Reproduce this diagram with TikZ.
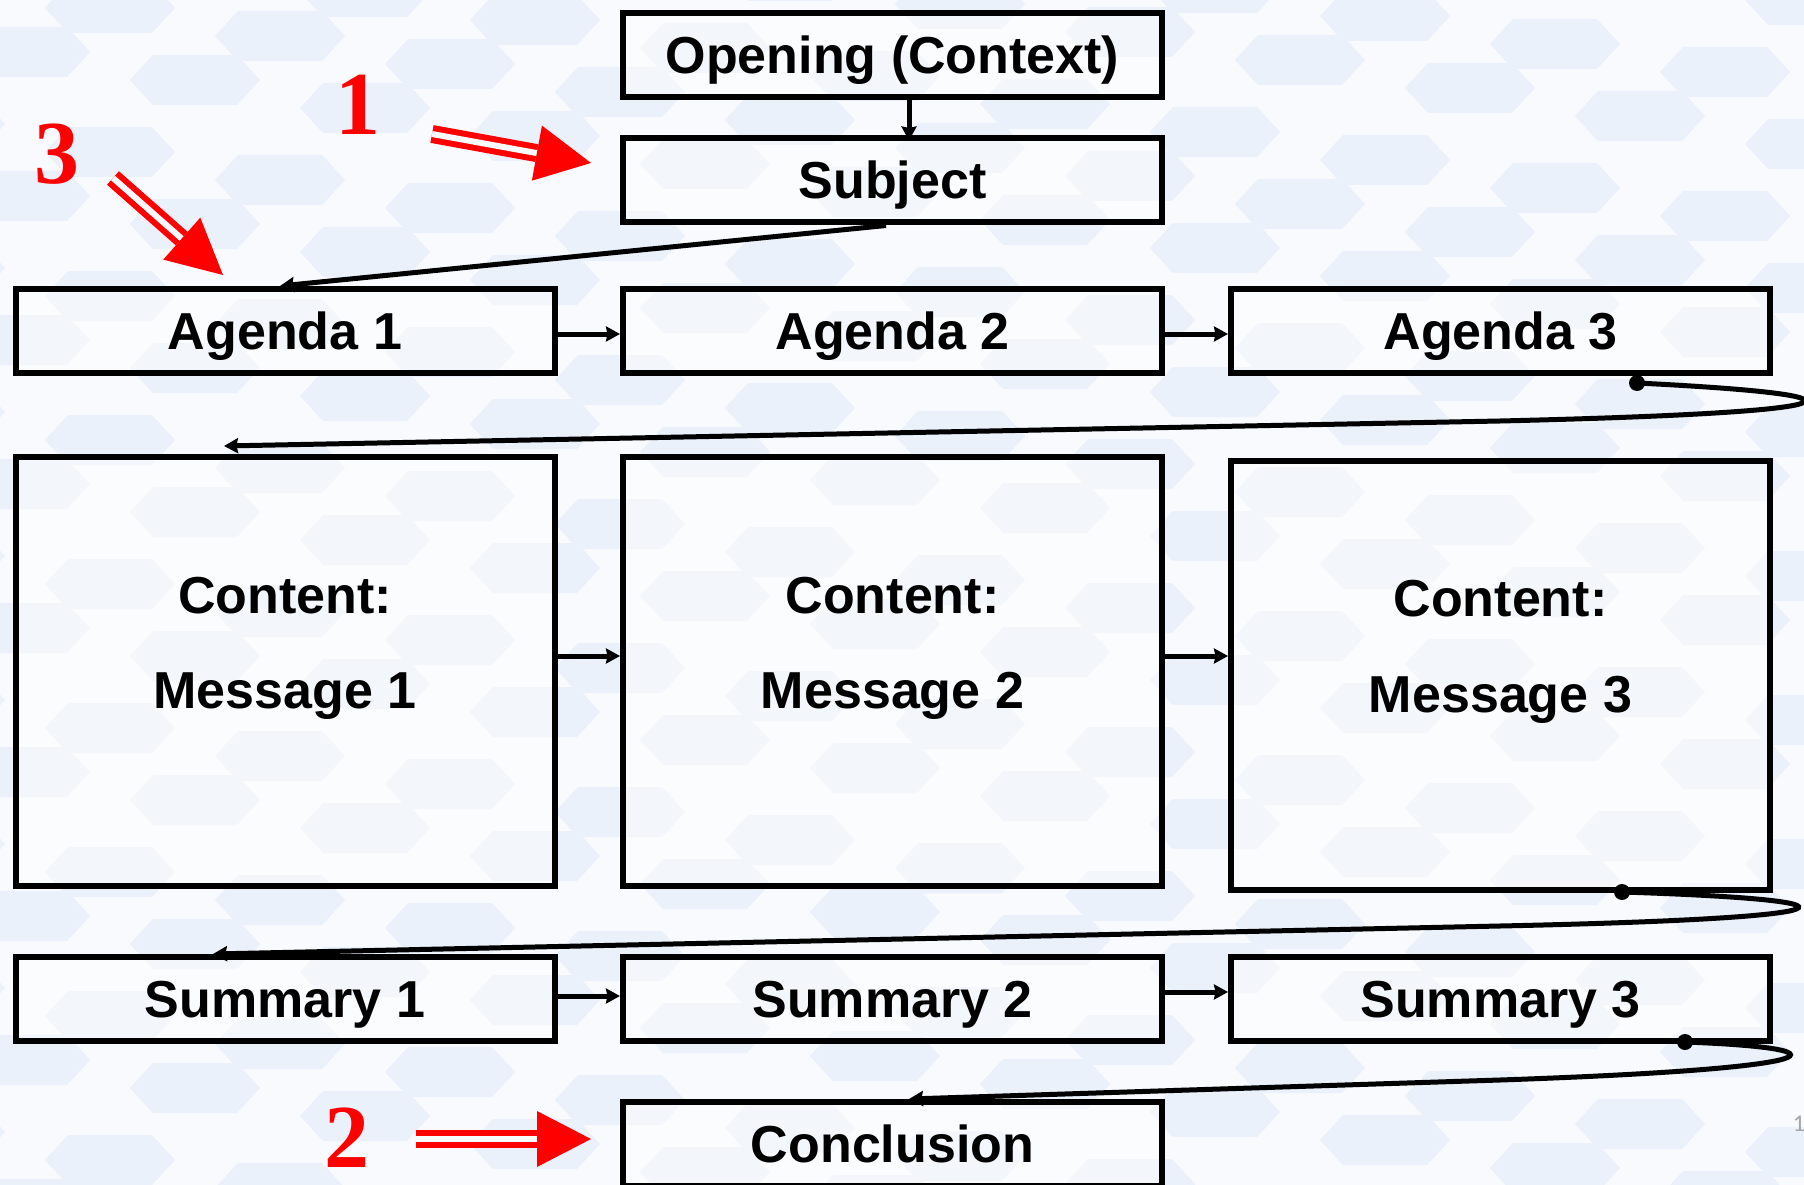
\documentclass[tikz,border=0pt]{standalone}
\usepackage{fontspec}
\setmainfont{Liberation Sans}
\newfontfamily\numfont{Liberation Serif}
\newfontfamily\pagefont{Carlito}
\usetikzlibrary{arrows.meta,calc}
\definecolor{bgc}{RGB}{248,250,254}
\definecolor{hexc}{RGB}{234,241,250}
\definecolor{arrred}{RGB}{255,0,0}
\definecolor{pagegray}{RGB}{165,165,165}
\begin{document}
\begin{tikzpicture}[x=1pt,y=-1pt,
  box/.style={draw=black, line width=6pt, fill=white, fill opacity=0.45, text opacity=1,
    minimum width=539pt, minimum height=84pt, inner sep=0pt,
    font=\fontsize{52}{60}\selectfont\bfseries, text height=50pt, text depth=13pt},
  bigbox/.style={box, minimum height=429pt},
  txt/.style={inner sep=0pt, font=\fontsize{52}{60}\selectfont\bfseries, text height=50pt, text depth=13pt},
  conn/.style={draw=black, line width=5pt, -{Stealth[length=14pt,width=15pt,inset=1.5pt]}},
  dotc/.style={fill=black},
  rnum/.style={text=arrred, font=\fontsize{90}{90}\selectfont\numfont\bfseries, inner sep=0pt, text height=61pt, text depth=0pt},
  rshaft/.style={draw=arrred, line width=6pt, double=bgc, double distance=6pt},
  rtip/.style={fill=arrred},
]
\useasboundingbox (0,0) rectangle (1804,1185);
% background
\begin{scope}
\clip (0,0) rectangle (1804,1185);
\fill[bgc] (0,0) rectangle (1804,1185);
\foreach \r in {-5,...,17} {
  \foreach \c in {0,...,11} {
    \pgfmathsetmacro\cx{\c*170 + mod(\r,2)*85 - 60}
    \pgfmathsetmacro\cy{\r*72 - 20 + \c*28}
    \fill[hexc, shift={(\cx,\cy)}] (-65,0) -- (-42,-25) -- (42,-25) -- (65,0) -- (42,25) -- (-42,25) -- cycle;
  }
}
\end{scope}

% boxes
\node[box] (open) at (892.5,55) {Opening (Context)};
\node[box] (subj) at (892.5,180.5) {Subject};
\node[box] (a1) at (285,331) {Agenda 1};
\node[box] (a2) at (892.5,331) {Agenda 2};
\node[box] (a3) at (1500.5,331) {Agenda 3};
\node[bigbox] (c1) at (285,671.5) {};
\node[bigbox] (c2) at (892.5,671.5) {};
\node[bigbox] (c3) at (1500.5,675.5) {};
\node[txt] (c1a) at (285,595) {Content:};
\node[txt] (c1b) at (285,690) {Message 1};
\node[txt] (c2a) at (892.5,595) {Content:};
\node[txt] (c2b) at (892.5,690) {Message 2};
\node[txt] (c3a) at (1500.5,598) {Content:};
\node[txt] (c3b) at (1500.5,694) {Message 3};
\node[box] (s1) at (285,999) {Summary 1};
\node[box] (s2) at (892.5,999) {Summary 2};
\node[box] (s3) at (1500.5,999) {Summary 3};
\node[box] (concl) at (892.5,1144) {Conclusion};

% straight connectors
\draw[conn] ([xshift=16.5pt]open.south) -- ([xshift=16.5pt,yshift=-5pt]subj.north);
\draw[conn] ([xshift=-6.5pt]subj.south) -- ([xshift=-5pt]a1.north);
\draw[conn] ([yshift=-3pt]a1.east) -- ([yshift=-3pt]a2.west);
\draw[conn] ([yshift=-3pt]a2.east) -- ([yshift=-3pt]a3.west);
\draw[conn] ([yshift=15.5pt]c1.east) -- ([yshift=15.5pt]c2.west);
\draw[conn] ([yshift=15.5pt]c2.east) -- ([yshift=15.5pt]c2.east -| c3.west);
\draw[conn] ([yshift=3pt]s1.east) -- ([yshift=3pt]s2.west);
\draw[conn] ([yshift=7pt]s2.east) -- ([yshift=7pt]s3.west);

% loop connectors
\coordinate (d1) at ([xshift=136.5pt,yshift=-7pt]a3.south);
\coordinate (e1) at ([xshift=-61pt,yshift=8pt]c1.north);
\draw[conn] (d1) .. controls (1880,395) and (1880,412) .. (1500,421) -- (e1);
\fill[dotc] (d1) circle (8pt);

\coordinate (d2) at ([xshift=121.5pt,yshift=1pt]c3.south);
\coordinate (e2) at ([xshift=-72pt]s1.north);
\draw[conn] (d2) .. controls (1875,900) and (1875,918) .. (1500,926) -- (e2);
\fill[dotc] (d2) circle (8pt);

\coordinate (d3) at ([xshift=184.5pt,yshift=2pt]s3.south);
\coordinate (e3) at ([xshift=16.5pt]concl.north);
\draw[conn] (d3) .. controls (1848,1048) and (1848,1068) .. (1500,1080) -- (e3);
\fill[dotc] (d3) circle (8pt);

% red numbers and arrows
\node[rnum] (n1) at (358,104) {1};
\node[rnum] (n3) at (57,153) {3};
\node[rnum] (n2) at (347,1137) {2};

\coordinate (r1s) at (432,134);
\coordinate (r1e) at (591,163);
\coordinate (r1b) at ($(r1e)!55pt!(r1s)$);
\draw[rshaft] (r1s) -- (r1b);
\fill[rtip] (r1e) -- ($(r1b)!28pt!90:(r1e)$) -- ($(r1b)!28pt!-90:(r1e)$) -- cycle;

\coordinate (r3s) at (113,178);
\coordinate (r3e) at (223,275);
\coordinate (r3b) at ($(r3e)!55pt!(r3s)$);
\draw[rshaft] (r3s) -- (r3b);
\fill[rtip] (r3e) -- ($(r3b)!28pt!90:(r3e)$) -- ($(r3b)!28pt!-90:(r3e)$) -- cycle;

\coordinate (r2s) at (416,1139);
\coordinate (r2e) at (591,1139);
\coordinate (r2b) at ($(r2e)!54pt!(r2s)$);
\draw[rshaft] (r2s) -- (r2b);
\fill[rtip] (r2e) -- ($(r2b)!28pt!90:(r2e)$) -- ($(r2b)!28pt!-90:(r2e)$) -- cycle;

% page number
\node[text=pagegray, font=\fontsize{24}{24}\selectfont\pagefont, inner sep=0pt] (pg) at (1799,1124) {1};
\end{tikzpicture}
\end{document}
